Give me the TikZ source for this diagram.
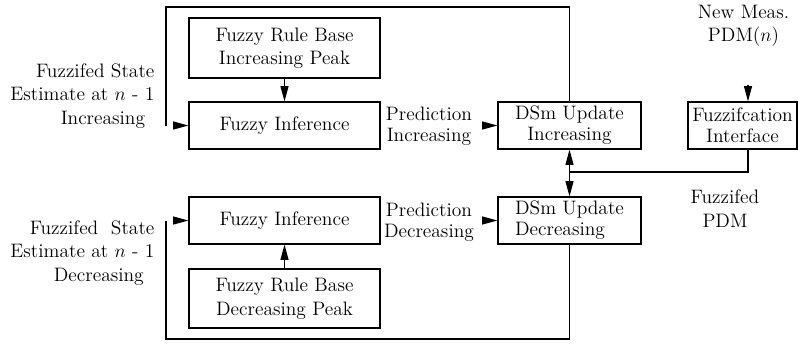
\documentclass[tikz,border=0pt]{standalone}
\usepackage{fontspec}
\usetikzlibrary{arrows.meta}
\begin{document}
\begin{tikzpicture}[x=0.75pt,y=-0.75pt,
  font=\fontsize{14.6}{17.6}\selectfont,
  line width=0.85pt,
  box/.style={draw, inner sep=0pt, align=center},
  lbl/.style={inner sep=0pt, align=center},
  arr/.style={-{Triangle[length=11.5pt,width=6pt]}}]
\useasboundingbox (0,0) rectangle (798,344);
% boxes
\node[box, minimum width=143.25pt, minimum height=45pt] (rbi) at (284.5,48) {Fuzzy Rule Base\\Increasing Peak};
\node[box, minimum width=143.25pt, minimum height=35.25pt] (fii) at (284.5,125.5) {Fuzzy Inference};
\node[box, minimum width=107.25pt, minimum height=35.25pt] (dsi) at (569.5,125.5) {DSm Update\\[-2pt]Increasing};
\node[box, minimum width=81.75pt, minimum height=35.25pt] (fz) at (742.5,125.5) {Fuzzifcation\\[-2pt]Interface};
\node[box, minimum width=143.25pt, minimum height=35.25pt] (fid) at (284.5,220.5) {Fuzzy Inference};
\node[box, minimum width=143.25pt, minimum height=44.25pt] (rbd) at (284.5,298.5) {Fuzzy Rule Base\\Decreasing Peak};
\node[box, minimum width=107.25pt, minimum height=35.25pt, align=left] (dsd) at (569.5,220.5) {DSm Update\\[-2pt]Decreasing};
% labels
\node[lbl, align=right, anchor=east] (li) at (155,96) {Fuzzifed State\\Estimate at $n$ - 1\\Increasing\hspace*{7pt}};
\node[lbl, align=right, anchor=east] (ld) at (155,253) {Fuzzifed\ \ State\\Estimate at $n$ - 1\\Decreasing\hspace*{8pt}};
\node[lbl] (pri) at (429,126.5) {Prediction\\[-2pt]Increasing};
\node[lbl] (prd) at (429,222) {Prediction\\[-2pt]Decreasing};
\node[lbl] (nmt) at (743.5,26) {New Meas.\\PDM($n$)};
\node[lbl] (fpdm) at (725,208.5) {Fuzzifed\\PDM};
% coordinates
\coordinate (topl) at (166,7);
\coordinate (ci) at (166,125.5);
\coordinate (ai) at (173,125.5);
\coordinate (botl) at (166,339);
\coordinate (cd) at (166,220.5);
\coordinate (ad) at (173,220.5);
\coordinate (pi) at (482,125.5);
\coordinate (pd) at (482,220.5);
\coordinate (nm) at (748,85);
\coordinate (j) at (569.5,172);
% connectors
\draw (dsi.north) |- (topl) -- (ci);
\draw[arr] (ai) -- (fii.west);
\draw (dsd.south) |- (botl) -- (cd);
\draw[arr] (ad) -- (fid.west);
\draw[arr] (rbi) -- (fii);
\draw[arr] (rbd) -- (fid);
\draw[arr] (pi) -- (dsi.west);
\draw[arr] (pd) -- (dsd.west);
\draw[arr] (nm) -- (nm |- fz.north);
\draw (fz.south -| nm) |- (j);
\draw[arr] (j) -- (dsi.south);
\draw[arr] (j) -- (dsd.north);
\end{tikzpicture}
\end{document}
